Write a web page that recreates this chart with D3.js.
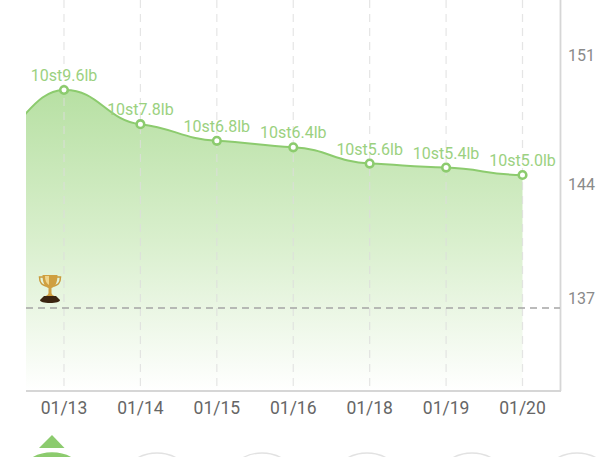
<!DOCTYPE html>
<html><head><meta charset="utf-8">
<script src="https://cdn.jsdelivr.net/npm/d3@7"></script>
<style>html,body{margin:0;padding:0;background:#fff}svg{display:block}text{font-family:Roboto,sans-serif}</style>
</head><body><svg id="c" width="600" height="457"></svg>
<script>
const dates = ["01/13","01/14","01/15","01/16","01/18","01/19","01/20"];
const weights = [149.6,147.75,146.85,146.5,145.62,145.4,145.0];
const labels = ["10st9.6lb","10st7.8lb","10st6.8lb","10st6.4lb","10st5.6lb","10st5.4lb","10st5.0lb"];
const previousWeight = 147.1;
const goalWeight = 137.8;
const axisTicks = [151,144,137];
const navItems = [52,158,263,368,473,577];

const svg = d3.select("#c");
const x = d3.scaleLinear().domain([0,6]).range([64,522.5]);
const y = d3.scaleLinear().domain([149.6,145]).range([90,175]);
const tickY = d3.scaleLinear().domain([151,144,137]).range([61,190,304]);

const pts = [[-1,previousWeight],...weights.map((w,i)=>[i,w])];
const defs = svg.append("defs");
const g = defs.append("linearGradient").attr("id","fill").attr("x1",0).attr("x2",0).attr("y1",0).attr("y2",1);
g.append("stop").attr("offset","0").attr("stop-color","#b7e0a3");
g.append("stop").attr("offset","0.5").attr("stop-color","#d9efcd");
g.append("stop").attr("offset","1").attr("stop-color","#ffffff");
defs.append("clipPath").attr("id","clip").append("rect").attr("x",26).attr("y",0).attr("width",534).attr("height",391);

function softCurve(context){
  let P=[];
  return {
    lineStart(){P=[];},
    point(a,b){P.push([+a,+b]);},
    lineEnd(){
      const n=P.length, k=0.35;
      const m=P.map((p,i)=>{
        if(i===0||i===n-1) return 0;
        return k*(P[i+1][1]-P[i-1][1])/(P[i+1][0]-P[i-1][0]);
      });
      context.moveTo(P[0][0],P[0][1]);
      for(let i=1;i<n;i++){
        const h=(P[i][0]-P[i-1][0])*0.45;
        context.bezierCurveTo(P[i-1][0]+h,P[i-1][1]+m[i-1]*h,P[i][0]-h,P[i][1]-m[i]*h,P[i][0],P[i][1]);
      }
    }
  };
}
const line = d3.line().x(d=>x(d[0])).y(d=>y(d[1])).curve(softCurve);
const lineD = line(pts);

const plot = svg.append("g").attr("clip-path","url(#clip)");
plot.append("path").attr("d",lineD+`L${x(6)},391L${x(-1)},391Z`).attr("fill","url(#fill)");

svg.append("g").selectAll("line").data(dates).join("line")
  .attr("x1",(d,i)=>x(i)).attr("x2",(d,i)=>x(i)).attr("y1",0).attr("y2",390)
  .attr("stroke","#dcdcdc").attr("stroke-opacity",0.75).attr("stroke-width",1.2).attr("stroke-dasharray","8 6");

svg.append("line").attr("x1",26).attr("x2",561).attr("y1",391).attr("y2",391).attr("stroke","#d6d6d6").attr("stroke-width",1.8);
svg.append("line").attr("x1",560.5).attr("x2",560.5).attr("y1",0).attr("y2",391).attr("stroke","#d6d6d6").attr("stroke-width",1.8);

svg.append("line").attr("x1",26).attr("x2",560).attr("y1",y(goalWeight)).attr("y2",y(goalWeight))
  .attr("stroke","#a5a5a5").attr("stroke-width",1.6).attr("stroke-dasharray","7 5");

plot.append("path").attr("d",lineD).attr("fill","none").attr("stroke","#8ccb6e").attr("stroke-width",2);

svg.append("g").selectAll("circle").data(weights).join("circle")
  .attr("cx",(d,i)=>x(i)).attr("cy",d=>y(d)).attr("r",3.8)
  .attr("fill","#fff").attr("stroke","#8ccb6e").attr("stroke-width",2.6);

svg.append("g").selectAll("text").data(labels).join("text")
  .attr("x",(d,i)=>x(i)).attr("y",(d,i)=>y(weights[i])-9)
  .attr("text-anchor","middle").attr("font-size",16).attr("fill","#9bd17f").text(d=>d);

svg.append("g").selectAll("text").data(dates).join("text")
  .attr("x",(d,i)=>x(i)).attr("y",414)
  .attr("text-anchor","middle").attr("font-size",17.5).attr("fill","#666").text(d=>d);

svg.append("g").selectAll("text").data(axisTicks).join("text")
  .attr("x",581.5).attr("y",d=>tickY(d))
  .attr("text-anchor","middle").attr("font-size",16).attr("fill","#8a8a8a").text(d=>d);

// trophy
const t = svg.append("g").attr("transform","translate(50,275)");
t.append("path").attr("d","M-7 2 H-10.5 C-10.5 9 -7 10 -4 11 M7 2 H10.5 C10.5 9 7 10 4 11").attr("fill","none").attr("stroke","#c99a3c").attr("stroke-width",1.5);
t.append("path").attr("d","M-7.5 0 H7.5 C7.5 8 5 12 1.5 13 V18 C1.5 20 4 20.5 5 21.5 H-5 C-4 20.5 -1.5 20 -1.5 18 V13 C-5 12 -7.5 8 -7.5 0Z").attr("fill","#cf9f40");
t.append("path").attr("d","M-5 1 H-1 V10 C-4 8.5 -5 5 -5 1Z").attr("fill","#efd48a");
t.append("path").attr("d","M-6 21 H6 L10 25 C10 27 6 28 0 28 C-6 28 -10 27 -10 25Z").attr("fill","#3a2410");

// bottom nav fragments
const pad = d3.scalePoint().domain(navItems).range([52,577]);
svg.append("path").attr("d","M39 448 L52 435 L64.5 448 Z").attr("fill","#8ccb6e");
svg.append("g").selectAll("circle").data(navItems).join("circle")
  .attr("cx",d=>pad(d)).attr("cy",493).attr("r",40)
  .attr("fill",(d,i)=>i==0?"#8ccb6e":"#fff").attr("stroke",(d,i)=>i==0?"#8ccb6e":"#e2e2e2").attr("stroke-width",1.3);
</script></body></html>
